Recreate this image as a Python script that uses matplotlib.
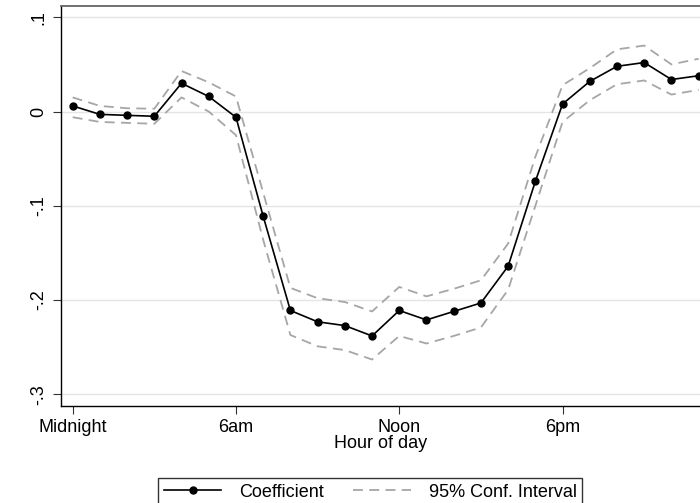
import matplotlib
matplotlib.use("Agg")
import matplotlib.pyplot as plt
from matplotlib.lines import Line2D

plt.rcParams["font.family"] = ["Liberation Sans", "DejaVu Sans"]

# hourly coefficients and 95% confidence bounds
hours = list(range(24))
coef = [0.006, -0.003, -0.004, -0.005, 0.030, 0.016, -0.006, -0.111,
        -0.211, -0.223, -0.227, -0.238, -0.211, -0.221, -0.212, -0.203,
        -0.164, -0.074, 0.008, 0.032, 0.048, 0.052, 0.034, 0.038]
upper = [0.015, 0.006, 0.0035, 0.003, 0.043, 0.031, 0.016, -0.086,
         -0.187, -0.198, -0.202, -0.212, -0.186, -0.196, -0.188, -0.179,
         -0.140, -0.048, 0.028, 0.046, 0.066, 0.070, 0.050, 0.056]
lower = [-0.006, -0.011, -0.012, -0.013, 0.015, 0.000, -0.025, -0.136,
         -0.237, -0.249, -0.253, -0.263, -0.238, -0.246, -0.238, -0.229,
         -0.189, -0.100, -0.011, 0.012, 0.029, 0.033, 0.018, 0.023]

xtick_pos = [0, 6, 12, 18]
xtick_labels = ["Midnight", "6am", "Noon", "6pm"]
ytick_pos = [-0.3, -0.2, -0.1, 0, 0.1]
ytick_labels = ["-.3", "-.2", "-.1", "0", ".1"]

fig = plt.figure(figsize=(7, 5.03), dpi=100)
ax = fig.add_axes([0.0867, 0.1934, 0.9133, 0.7953])

dash_style = dict(color="#a6a6a6", linewidth=1.3, linestyle=(0, (5.5, 3.5)))
ax.plot(hours, upper, **dash_style)
ax.plot(hours, lower, **dash_style)
ax.plot(hours, coef, color="black", linewidth=1.2, marker="o", markersize=5)

ax.set_xlim(-0.44, 23.05)
ax.set_ylim(-0.312, 0.1123)
ax.set_xticks(xtick_pos)
ax.set_xticklabels(xtick_labels, fontsize=13)
ax.set_yticks(ytick_pos)
ax.set_yticklabels(ytick_labels, fontsize=13, rotation=90, va="center")
ax.tick_params(axis="both", length=5.5, width=0.8, color="#333333")
ax.tick_params(axis="x", pad=4)
ax.tick_params(axis="y", pad=4)
ax.set_xlabel("Hour of day", fontsize=13, labelpad=-1)

ax.grid(axis="y", color="#e5e5e5", linewidth=1)
ax.set_axisbelow(True)
ax.spines["right"].set_visible(False)
ax.spines["top"].set_color("#666666")
ax.spines["top"].set_linewidth(1.3)
ax.spines["left"].set_linewidth(1.0)
ax.spines["bottom"].set_linewidth(1.0)

handles = [
    Line2D([], [], color="black", linewidth=1.2, marker="o", markersize=5),
    Line2D([], [], **dash_style),
]
leg = fig.legend(handles, ["Coefficient", "95% Conf. Interval"],
                 loc="lower center", bbox_to_anchor=(0.529, -0.006), ncol=2,
                 fontsize=13, frameon=True, fancybox=False, handlelength=3.2,
                 handletextpad=1.0, columnspacing=1.6, borderpad=0.3,
                 borderaxespad=0)
leg.get_frame().set_edgecolor("black")
leg.get_frame().set_linewidth(1.0)

fig.savefig("out.png", dpi=100)
